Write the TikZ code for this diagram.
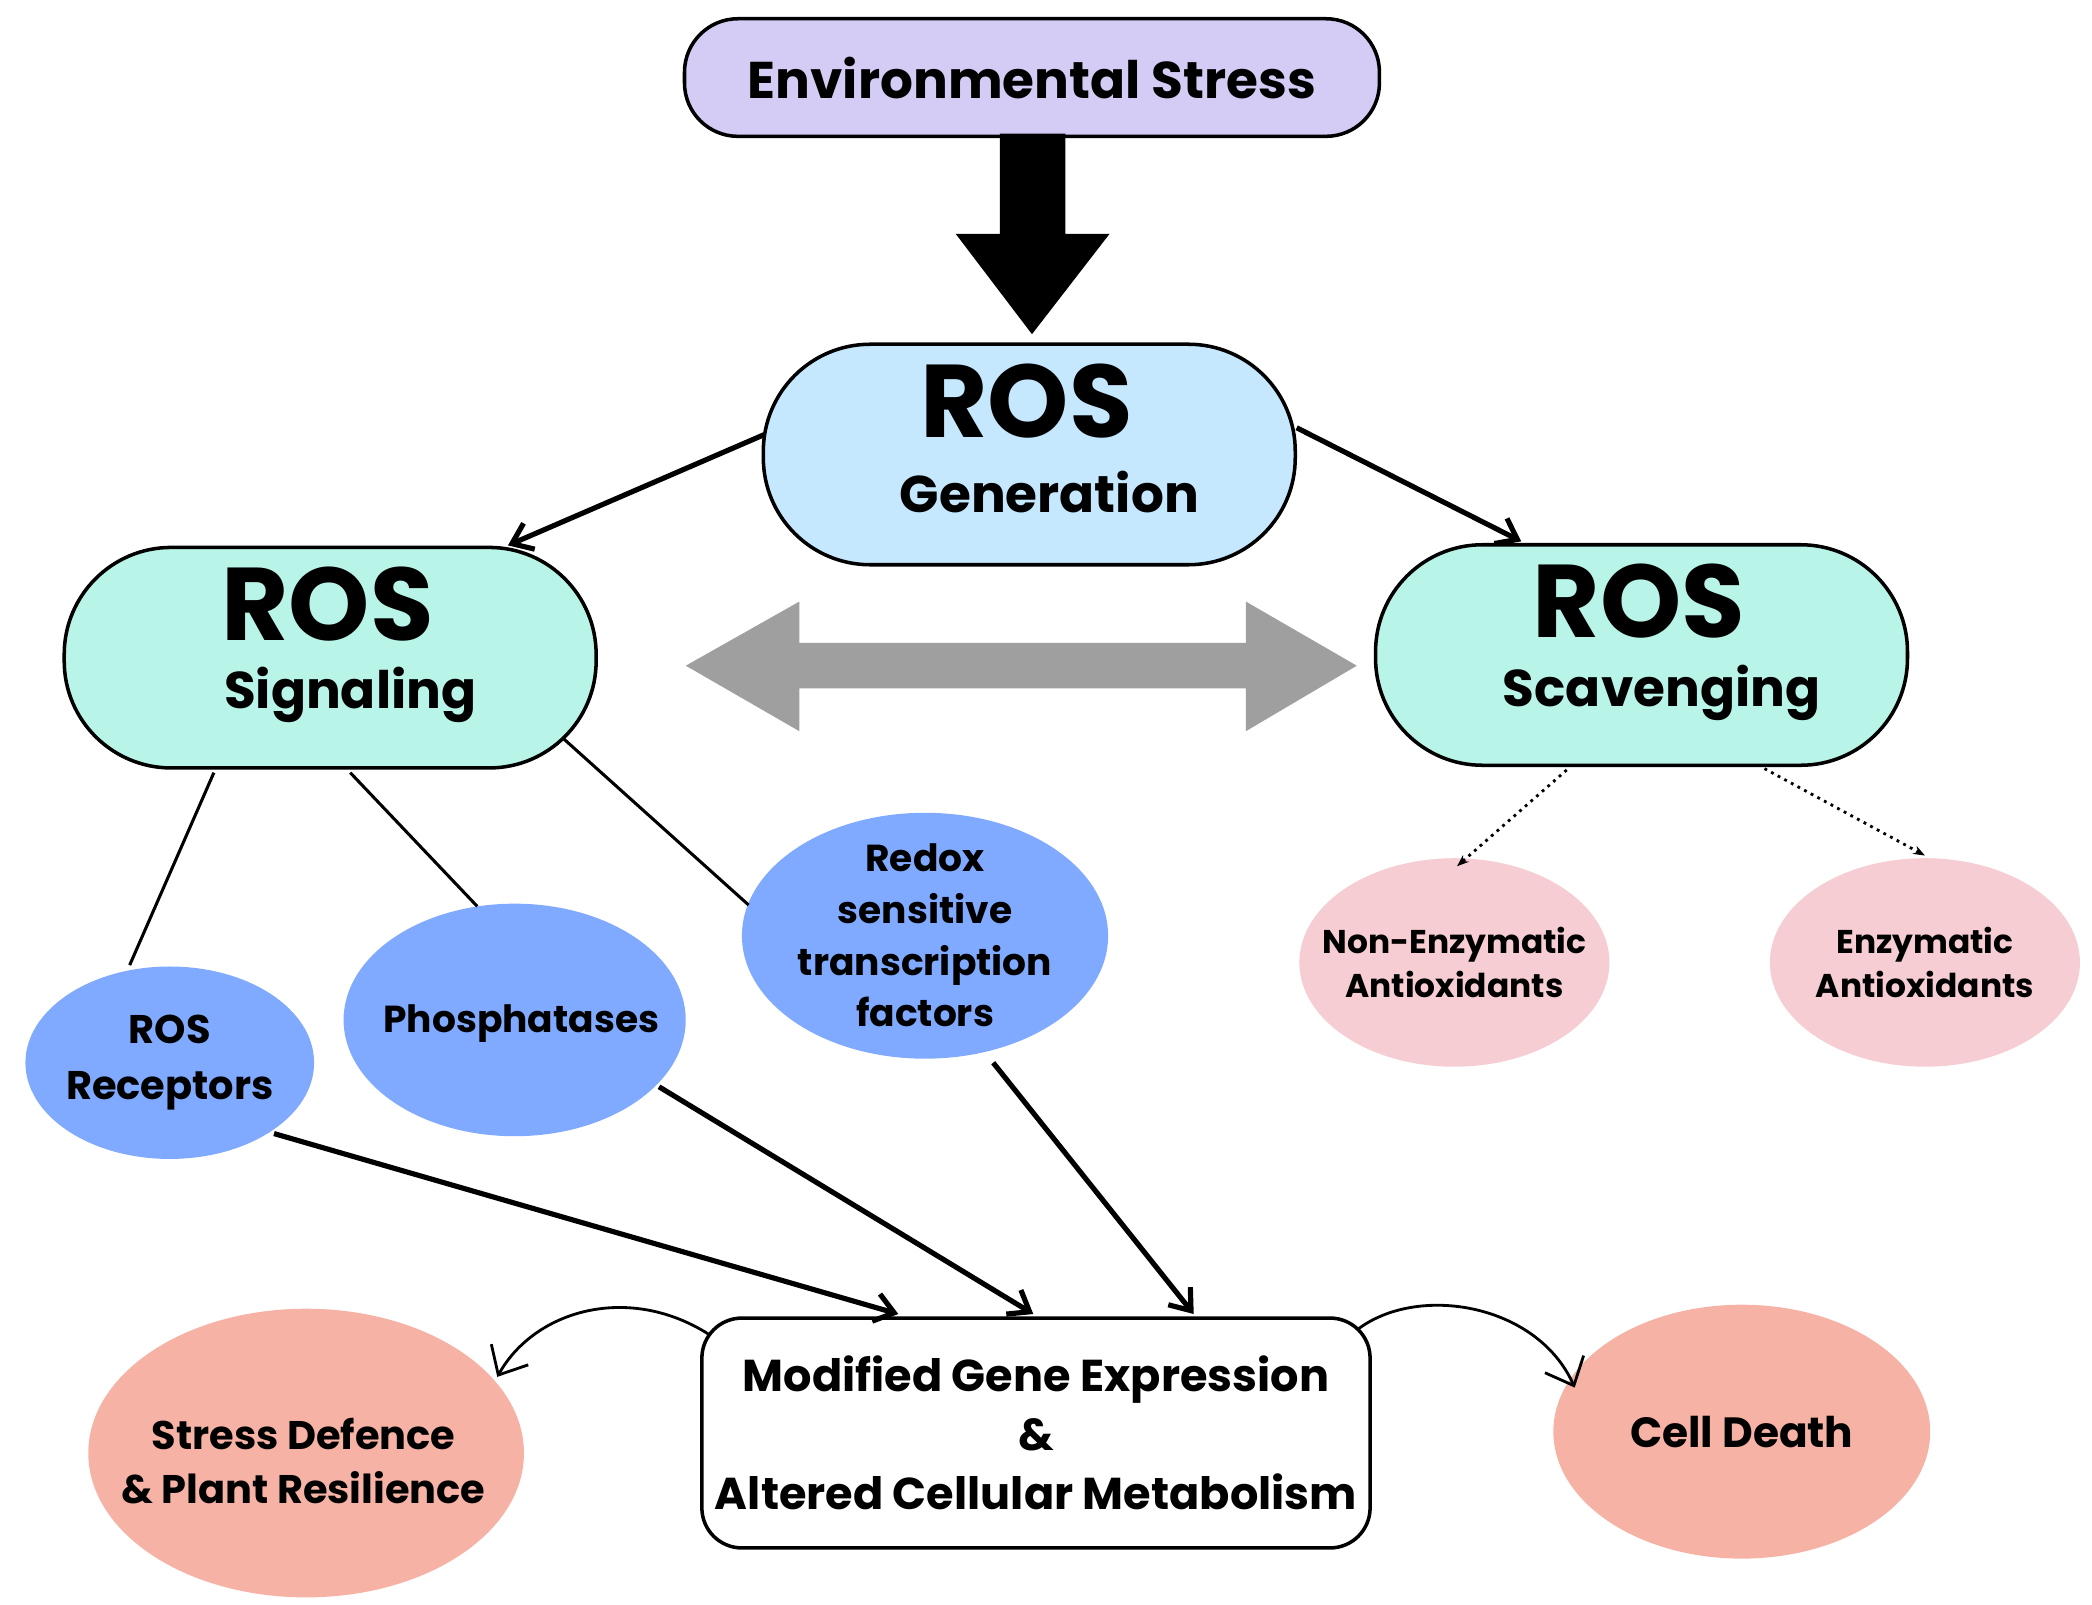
\documentclass[tikz,border=0pt]{standalone}
\usepackage{fontspec}
\setmainfont{Poppins}
\usetikzlibrary{arrows.meta,shapes.geometric}
\definecolor{lav}{HTML}{D5CCF5}
\definecolor{gen}{HTML}{C5E8FF}
\definecolor{mint}{HTML}{B8F5E8}
\definecolor{blu}{HTML}{80AAFF}
\definecolor{pnk}{HTML}{F5CDD2}
\definecolor{sal}{HTML}{F6B2A5}
\newcommand{\fs}[2]{\fontsize{#1pt}{#2pt}\selectfont\bfseries}
\tikzset{
 pill/.style={draw=black,line width=1.5pt,rounded corners=1.6cm,minimum width=7.96cm,minimum height=3.3cm,align=center},
 ell/.style={ellipse,inner sep=0pt},
 lbl/.style={align=center,inner sep=0pt},
 arr/.style={line width=2.2pt,-{Straight Barb[length=8pt,width=12pt]}},
}
\begin{document}
\begin{tikzpicture}[x=0.02cm,y=-0.02cm]
\useasboundingbox (0,0) rectangle (1565,1200);
\node[draw,line width=1.5pt,rounded corners=0.8cm,fill=lav,minimum width=10.4cm,minimum height=1.76cm,font=\fs{22}{26}] (env) at (772,58) {Environmental Stress};
\fill (748,100) -- (797,100) -- (797,175) -- (830,175) -- (772,250) -- (715,175) -- (748,175) -- cycle;
\node[pill,fill=gen] (gen) at (770,340) {};
\node[font=\fs{44}{50}] at (768,300) {ROS};
\node[font=\fs{22}{26}] at (785,368) {Generation};
\node[pill,fill=mint] (sig) at (247,492) {};
\node[font=\fs{44}{50}] at (245,452) {ROS};
\node[font=\fs{22}{26}] at (262,520) {Signaling};
\node[pill,fill=mint] (sca) at (1228,490) {};
\node[font=\fs{44}{50}] at (1226,450) {ROS};
\node[font=\fs{22}{26}] at (1243,518) {Scavenging};
\coordinate (g1) at (572,325); \coordinate (s1) at (380,408);
\coordinate (g2) at (970,320); \coordinate (c1) at (1138,405);
\draw[arr] (g1) -- (s1);
\draw[arr] (g2) -- (c1);
\fill[gray!75] (513,498) -- (598,450) -- (598,481) -- (932,481) -- (932,450) -- (1015,498) -- (932,547) -- (932,515) -- (598,515) -- (598,547) -- cycle;
\node[ell,fill=blu,minimum width=4.32cm,minimum height=2.88cm] (rec) at (127,795) {};
\node[lbl,font=\fs{17}{24}] at (rec) {ROS\\Receptors};
\node[ell,fill=blu,minimum width=5.12cm,minimum height=3.48cm] (pho) at (385,763) {};
\node[lbl,font=\fs{16}{20}] at (390,766) {Phosphatases};
\node[ell,fill=blu,minimum width=5.48cm,minimum height=3.68cm] (red) at (692,700) {};
\node[lbl,font=\fs{16}{22}] at (red) {Redox\\sensitive\\transcription\\factors};
\draw[line width=1.3pt] (160,578) -- (97,722);
\draw[line width=1.3pt] (262,578) -- (357,678);
\draw[line width=1.3pt] (422,553) -- (560,677);
\node[ell,fill=pnk,minimum width=4.64cm,minimum height=3.12cm] (ne) at (1088,720) {};
\node[lbl,font=\fs{14}{19}] at (ne) {Non-Enzymatic\\Antioxidants};
\node[ell,fill=pnk,minimum width=4.64cm,minimum height=3.12cm] (en) at (1440,720) {};
\node[lbl,font=\fs{14}{19}] at (en) {Enzymatic\\Antioxidants};
\draw[line width=1.2pt,dotted,-{Stealth[length=5pt]}] (1172,576) -- (1090,648);
\draw[line width=1.2pt,dotted,-{Stealth[length=5pt]}] (1320,575) -- (1440,640);
\node[draw,line width=1.5pt,rounded corners=0.6cm,fill=white,minimum width=10cm,minimum height=3.44cm] (mod) at (775,1072) {};
\node[lbl,font=\fs{19}{25}] at (mod) {Modified Gene Expression\\\&\\Altered Cellular Metabolism};
\coordinate (m1) at (672,983); \coordinate (m2) at (773,983); \coordinate (m3) at (893,983);
\draw[arr] (205,848) -- (m1);
\draw[arr] (493,813) -- (m2);
\draw[arr] (743,795) -- (m3);
\node[ell,fill=sal,minimum width=6.52cm,minimum height=4.32cm] (def) at (229,1087) {};
\node[lbl,font=\fs{17}{23}] at (227,1093) {Stress Defence\\\& Plant Resilience};
\node[ell,fill=sal,minimum width=5.64cm,minimum height=3.8cm] (cd) at (1303,1071) {};
\node[lbl,font=\fs{18}{23}] at (cd) {Cell Death};
\draw[line width=1.2pt,-{Straight Barb[length=10pt,width=18pt]}] (530,998) .. controls (470,960) and (400,980) .. (372,1030);
\draw[line width=1.2pt,-{Straight Barb[length=10pt,width=18pt]}] (1015,995) .. controls (1060,960) and (1150,975) .. (1178,1038);
\end{tikzpicture}
\end{document}
